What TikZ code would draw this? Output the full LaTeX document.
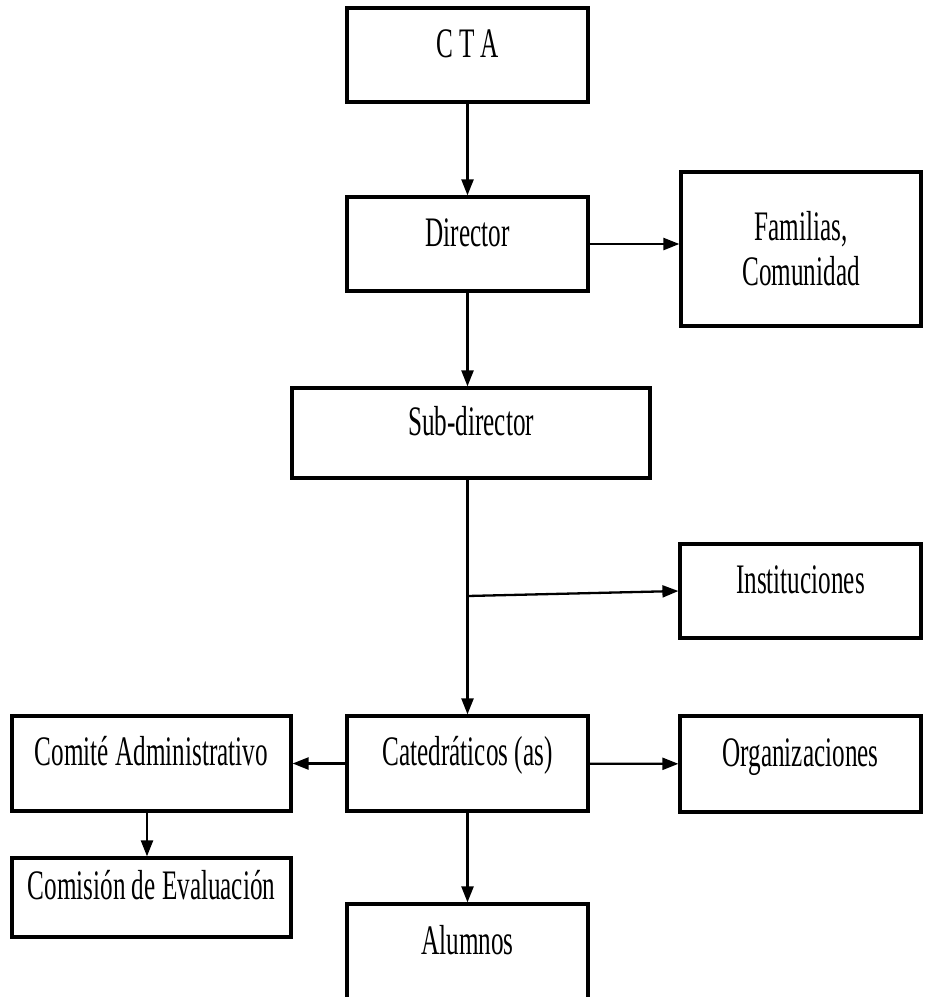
\documentclass[tikz,border=0pt]{standalone}
\usepackage{fontspec}
\setmainfont[FakeStretch=0.6]{Liberation Serif}
\usetikzlibrary{arrows.meta}

\begin{document}
\begin{tikzpicture}[x=1pt,y=-1pt,
        box/.style={draw,line width=3.2pt,inner sep=0pt,text height=0.7em,text depth=0.3em,
            font=\fontsize{42}{45}\selectfont},
        link/.style={line width=2.3pt,-{Triangle[length=16pt,width=12pt]}}]
        \useasboundingbox (0,0) rectangle (933,997);

        % middle column
        \node[box,minimum width=241pt,minimum height=94pt] (cta) at (467.5,55) {C T A};
        \node[box,minimum width=241pt,minimum height=94pt] (director) at (467.5,244) {Director};
        \node[box,minimum width=358pt,minimum height=90pt] (subdir) at (471,433) {Sub-director};
        \node[box,minimum width=241pt,minimum height=95pt] (catedra) at (467.5,763.5) {Catedráticos (as)};
        \node[box,minimum width=241pt,minimum height=96pt] (alumnos) at (467.5,952) {Alumnos};

        % right column
        \node[box,minimum width=240pt,minimum height=154pt,text height={},text depth={},align=center] (familias) at (801,249) {Familias,\\ Comunidad};
        \node[box,minimum width=241pt,minimum height=94pt] (inst) at (800.5,591) {Instituciones};
        \node[box,minimum width=241pt,minimum height=96pt] (organiz) at (800.5,764) {Organizaciones};

        % left column
        \node[box,minimum width=279pt,minimum height=95pt] (comite) at (151.5,763.5) {Comité Administrativo};
        \node[box,minimum width=279pt,minimum height=79pt] (comision) at (151.5,897.5) {Comisión de Evaluación};

        \draw[link] (cta) -- (director);
        \draw[link] (director) -- (familias.west |- director);
        \draw[link] (director) -- (director.south |- subdir.north);
        \draw[link] (catedra.north |- subdir.south) -- (catedra);
        \coordinate (branch) at (467.5,596);
        \draw[link] (branch) -- (inst.west);
        \draw[link] (catedra) -- (comite);
        \draw[link] (catedra) -- (organiz);
        \draw[link] (comite.south -| 147,0) -- (comision.north -| 147,0);
        \draw[link] (catedra) -- (alumnos);
    \end{tikzpicture}
\end{document}
